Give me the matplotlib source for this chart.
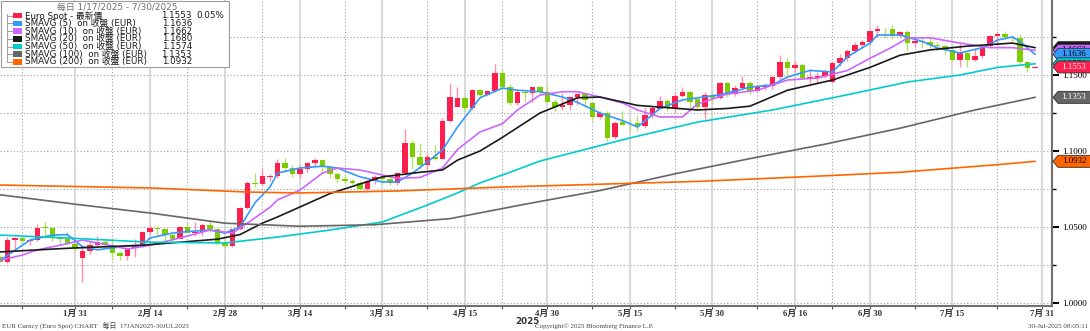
import numpy as np
import pandas as pd
import matplotlib
matplotlib.use("Agg")
import matplotlib.pyplot as plt
from matplotlib.patches import Polygon, Rectangle
from matplotlib import transforms

W, H = 1090, 331
plt.rcParams['font.family'] = ['DejaVu Sans', 'Noto Sans CJK TC']

# trading days 1/17 .. 7/31 (7/31 only used for the last axis label)
dates = pd.bdate_range("2025-01-17", "2025-07-31")

# daily OHLC, EUR spot
opens = [1.0300, 1.0272, 1.0415, 1.0430, 1.0410, 1.0414, 1.0495, 1.0493, 1.0430, 1.0422, 1.0390,
         1.0295, 1.0340, 1.0380, 1.0403, 1.0380, 1.0330, 1.0307, 1.0360, 1.0382, 1.0465,
         1.0492, 1.0484, 1.0447, 1.0423, 1.0503, 1.0459, 1.0464, 1.0512, 1.0487, 1.0398,
         1.0375, 1.0485, 1.0626, 1.0789, 1.0784, 1.0830, 1.0835, 1.0918, 1.0889, 1.0851,
         1.0880, 1.0922, 1.0943, 1.0898, 1.0851, 1.0817, 1.0801, 1.0791, 1.0753, 1.0800, 1.0828,
         1.0816, 1.0790, 1.0852, 1.1051, 1.0960, 1.0910, 1.0960, 1.0950, 1.1200,
         1.1290, 1.1350, 1.1285, 1.1400, 1.1367, 1.1395, 1.1510, 1.1420, 1.1316, 1.1390,
         1.1380, 1.1420, 1.1385, 1.1325, 1.1290, 1.1300, 1.1355, 1.1375, 1.1316, 1.1224,
         1.1250, 1.1090, 1.1190, 1.1180, 1.1185, 1.1165, 1.1237, 1.1276, 1.1330, 1.1280,
         1.1360, 1.1390, 1.1340, 1.1290, 1.1368, 1.1349, 1.1447, 1.1375, 1.1414, 1.1447,
         1.1395, 1.1420, 1.1425, 1.1487, 1.1585, 1.1546, 1.1566, 1.1480, 1.1480, 1.1496,
         1.1454, 1.1580, 1.1610, 1.1660, 1.1700, 1.1717, 1.1787, 1.1805, 1.1800, 1.1757,
         1.1780, 1.1710, 1.1725, 1.1715, 1.1700, 1.1688, 1.1663, 1.1600, 1.1645, 1.1600,
         1.1627, 1.1690, 1.1755, 1.1772, 1.1750, 1.1742, 1.1588, 1.1545]
highs = [1.0316, 1.0432, 1.0436, 1.0433, 1.0424, 1.0522, 1.0533, 1.0500, 1.0440, 1.0465, 1.0410,
         1.0376, 1.0410, 1.0442, 1.0420, 1.0430, 1.0340, 1.0370, 1.0420, 1.0473, 1.0513,
         1.0505, 1.0490, 1.0460, 1.0505, 1.0528, 1.0530, 1.0528, 1.0540, 1.0490, 1.0420,
         1.0490, 1.0630, 1.0800, 1.0853, 1.0888, 1.0850, 1.0947, 1.0955, 1.0905, 1.0906,
         1.0930, 1.0955, 1.0950, 1.0905, 1.0860, 1.0850, 1.0815, 1.0805, 1.0810, 1.0840, 1.0830,
         1.0835, 1.0865, 1.1145, 1.1070, 1.1050, 1.0990, 1.1040, 1.1220, 1.1450,
         1.1420, 1.1360, 1.1410, 1.1410, 1.1400, 1.1574, 1.1530, 1.1440, 1.1400, 1.1395,
         1.1420, 1.1425, 1.1425, 1.1340, 1.1380, 1.1365, 1.1380, 1.1380, 1.1320, 1.1265,
         1.1260, 1.1195, 1.1265, 1.1210, 1.1230, 1.1290, 1.1290, 1.1365, 1.1345, 1.1380,
         1.1420, 1.1400, 1.1345, 1.1385, 1.1385, 1.1455, 1.1455, 1.1435, 1.1495, 1.1460,
         1.1430, 1.1450, 1.1495, 1.1632, 1.1614, 1.1590, 1.1580, 1.1540, 1.1520, 1.1540,
         1.1590, 1.1640, 1.1670, 1.1715, 1.1730, 1.1790, 1.1830, 1.1810, 1.1830, 1.1790,
         1.1795, 1.1745, 1.1745, 1.1750, 1.1720, 1.1695, 1.1690, 1.1720, 1.1650, 1.1680,
         1.1700, 1.1760, 1.1780, 1.1790, 1.1760, 1.1770, 1.1590, 1.1560]
lows = [1.0267, 1.0265, 1.0340, 1.0390, 1.0380, 1.0410, 1.0440, 1.0410, 1.0380, 1.0380, 1.0340,
        1.0141, 1.0320, 1.0360, 1.0360, 1.0285, 1.0285, 1.0280, 1.0300, 1.0370, 1.0450,
        1.0450, 1.0410, 1.0400, 1.0420, 1.0460, 1.0440, 1.0440, 1.0470, 1.0380, 1.0360,
        1.0370, 1.0480, 1.0620, 1.0765, 1.0770, 1.0800, 1.0820, 1.0860, 1.0830, 1.0822,
        1.0860, 1.0900, 1.0860, 1.0820, 1.0795, 1.0780, 1.0780, 1.0745, 1.0733, 1.0780, 1.0780,
        1.0775, 1.0776, 1.0850, 1.0880, 1.0880, 1.0880, 1.0940, 1.0950, 1.1190,
        1.1290, 1.1260, 1.1270, 1.1350, 1.1360, 1.1390, 1.1400, 1.1300, 1.1300, 1.1320,
        1.1320, 1.1370, 1.1320, 1.1265, 1.1270, 1.1270, 1.1300, 1.1290, 1.1200, 1.1210,
        1.1065, 1.1080, 1.1170, 1.1130, 1.1130, 1.1150, 1.1220, 1.1275, 1.1260, 1.1250,
        1.1355, 1.1285, 1.1270, 1.1210, 1.1310, 1.1340, 1.1355, 1.1365, 1.1405, 1.1375,
        1.1385, 1.1400, 1.1410, 1.1470, 1.1490, 1.1520, 1.1475, 1.1450, 1.1446, 1.1480,
        1.1450, 1.1560, 1.1590, 1.1650, 1.1680, 1.1700, 1.1750, 1.1745, 1.1740, 1.1750,
        1.1660, 1.1685, 1.1680, 1.1680, 1.1655, 1.1640, 1.1590, 1.1555, 1.1555, 1.1590,
        1.1615, 1.1685, 1.1700, 1.1735, 1.1710, 1.1570, 1.1520, 1.1545]
closes = [1.0272, 1.0415, 1.0430, 1.0410, 1.0414, 1.0495, 1.0493, 1.0430, 1.0422, 1.0390, 1.0362,
          1.0340, 1.0380, 1.0403, 1.0380, 1.0330, 1.0307, 1.0360, 1.0382, 1.0465, 1.0492,
          1.0484, 1.0447, 1.0423, 1.0503, 1.0459, 1.0464, 1.0512, 1.0487, 1.0398, 1.0375,
          1.0485, 1.0626, 1.0789, 1.0784, 1.0833, 1.0835, 1.0918, 1.0889, 1.0851, 1.0880,
          1.0922, 1.0943, 1.0898, 1.0851, 1.0817, 1.0801, 1.0791, 1.0753, 1.0800, 1.0828, 1.0816,
          1.0790, 1.0852, 1.1051, 1.0960, 1.0910, 1.0960, 1.0950, 1.1200, 1.1357,
          1.1350, 1.1285, 1.1400, 1.1367, 1.1395, 1.1510, 1.1420, 1.1316, 1.1390, 1.1380,
          1.1420, 1.1385, 1.1325, 1.1290, 1.1300, 1.1355, 1.1375, 1.1336, 1.1224, 1.1250,
          1.1087, 1.1184, 1.1170, 1.1175, 1.1165, 1.1237, 1.1283, 1.1330, 1.1280, 1.1360,
          1.1390, 1.1320, 1.1290, 1.1368, 1.1349, 1.1447, 1.1370, 1.1414, 1.1447, 1.1395,
          1.1420, 1.1425, 1.1487, 1.1585, 1.1545, 1.1566, 1.1480, 1.1490, 1.1495, 1.1523,
          1.1580, 1.1610, 1.1660, 1.1700, 1.1717, 1.1787, 1.1805, 1.1800, 1.1757, 1.1780,
          1.1710, 1.1725, 1.1715, 1.1700, 1.1688, 1.1663, 1.1600, 1.1645, 1.1600, 1.1627,
          1.1690, 1.1755, 1.1772, 1.1750, 1.1742, 1.1588, 1.1545, 1.1553]

# moving averages, read at sample days (trading-day number from 1/17)
sma5_day = [0, 4, 7, 9, 11, 13, 17, 19, 20, 23, 25, 28, 30, 32, 34, 36, 37, 40, 43, 45, 48, 51, 53,
            55, 57, 59, 61, 64, 67, 69, 72, 75, 77, 80, 83, 85, 88, 91, 93, 96, 100, 103, 105,
            108, 111, 113, 116, 117, 120, 123, 125, 128, 131, 133, 135, 136, 138]
sma5_val = [1.0280, 1.0414, 1.0447, 1.0450, 1.0370, 1.0350, 1.0375, 1.0380, 1.0428, 1.0460, 1.0470,
            1.0480, 1.0460, 1.0500, 1.0660, 1.0763, 1.0855, 1.0888, 1.0900, 1.0888, 1.0830, 1.0796,
            1.0796, 1.0855, 1.0928, 1.1007, 1.1158, 1.1350, 1.1414, 1.1400, 1.1390, 1.1355, 1.1320,
            1.1250, 1.1200, 1.1158, 1.1280, 1.1336, 1.1350, 1.1370, 1.1420, 1.1435, 1.1487,
            1.1530, 1.1520, 1.1620, 1.1710, 1.1763, 1.1763, 1.1720, 1.1678, 1.1645, 1.1680,
            1.1730, 1.1750, 1.1720, 1.1636]
sma10_day = [0, 3, 5, 8, 11, 13, 17, 20, 24, 28, 31, 33, 36, 37, 40, 43, 45, 48, 51, 53, 56, 59,
             61, 64, 67, 69, 72, 75, 77, 80, 83, 85, 88, 91, 93, 97, 101, 105, 109, 113, 116,
             119, 121, 124, 128, 132, 135, 138]
sma10_val = [1.0280, 1.0316, 1.0350, 1.0380, 1.0414, 1.0395, 1.0355, 1.0380, 1.0428, 1.0480,
             1.0460, 1.0526, 1.0630, 1.0678, 1.0743, 1.0855, 1.0888, 1.0875, 1.0842, 1.0820,
             1.0826, 1.0888, 1.1010, 1.1125, 1.1180, 1.1270, 1.1368, 1.1390, 1.1390, 1.1355,
             1.1316, 1.1270, 1.1224, 1.1224, 1.1310, 1.1375, 1.1400, 1.1467, 1.1480, 1.1530,
             1.1610, 1.1685, 1.1743, 1.1745, 1.1710, 1.1680, 1.1680, 1.1662]
sma20_day = [0, 9, 19, 29, 32, 35, 37, 44, 51, 56, 59, 61, 64, 67, 72, 77, 80, 85, 93, 97, 100,
             105, 111, 116, 120, 124, 129, 135, 138]
sma20_val = [1.0336, 1.0360, 1.0380, 1.0420, 1.0450, 1.0526, 1.0566, 1.0720, 1.0830, 1.0860,
             1.0875, 1.0940, 1.1000, 1.1090, 1.1250, 1.1350, 1.1355, 1.1300, 1.1270, 1.1280,
             1.1295, 1.1400, 1.1467, 1.1550, 1.1630, 1.1665, 1.1690, 1.1710, 1.1680]
sma50_day = [0, 10, 20, 30, 37, 44, 51, 57, 61, 64, 68, 72, 84, 93, 103, 113, 121, 128, 133, 138]
sma50_val = [1.0447, 1.0425, 1.0400, 1.0395, 1.0434, 1.0480, 1.0533, 1.0645, 1.0724, 1.0790,
             1.0860, 1.0934, 1.1086, 1.1190, 1.1270, 1.1370, 1.1454, 1.1500, 1.1550, 1.1574]
sma100_day = [0, 10, 20, 30, 40, 50, 60, 70, 80, 90, 100, 110, 120, 130, 138]
sma100_val = [1.0712, 1.0650, 1.0592, 1.0525, 1.0505, 1.0515, 1.0555, 1.0650, 1.0740, 1.0850,
              1.0950, 1.1045, 1.1150, 1.1270, 1.1353]
sma200_day = [0, 20, 33, 40, 53, 67, 72, 93, 107, 120, 133, 138]
sma200_val = [1.0776, 1.0757, 1.0730, 1.0724, 1.0737, 1.0763, 1.0770, 1.0800, 1.0830, 1.0860,
              1.0910, 1.0932]

label_dates = ["2025-01-31", "2025-02-14", "2025-02-28", "2025-03-14", "2025-03-31", "2025-04-15",
               "2025-04-30", "2025-05-15", "2025-05-30", "2025-06-16", "2025-06-30", "2025-07-15",
               "2025-07-31"]
label_texts = ["1月 31", "2月 14", "2月 28", "3月 14", "3月 31", "4月 15", "4月 30", "5月 15",
               "5月 30", "6月 16", "6月 30", "7月 15", "7月 31"]
minor_dates = ["2025-01-22", "2025-02-07", "2025-02-21", "2025-03-07", "2025-03-24", "2025-04-08",
               "2025-04-22", "2025-05-08", "2025-05-23", "2025-06-09", "2025-06-23", "2025-07-08",
               "2025-07-23"]
y_labels = [1.00, 1.05, 1.10, 1.15]

C_UP, C_DN = "#ff1f4f", "#7ccc00"
W_UP, W_DN = "#ff8fa5", "#b5e06a"
series = [("SMAVG (5)", sma5_day, sma5_val, "#3399ff", "black"),
          ("SMAVG (10)", sma10_day, sma10_val, "#cc66ff", "black"),
          ("SMAVG (20)", sma20_day, sma20_val, "#1a1a1a", "white"),
          ("SMAVG (50)", sma50_day, sma50_val, "#00cccc", "black"),
          ("SMAVG (100)", sma100_day, sma100_val, "#666666", "white"),
          ("SMAVG (200)", sma200_day, sma200_val, "#ff6600", "black")]

pos = {d: i for i, d in enumerate(dates)}
n = len(closes)
xs = np.arange(n)
o = np.array(opens); h = np.array(highs); l = np.array(lows); c = np.array(closes)
up = c >= o

fig = plt.figure(figsize=(W / 100, H / 100), dpi=100)
ax = fig.add_axes([0, 25 / H, 1052 / W, 306 / H])
ax.set_xlim(0, 1052 / 7.5)
ax.set_ylim(1.0 - 3 / 1520, 1.0 + 303 / 1520)

# grid
for v in np.arange(1.0, 1.19, 0.025):
    ax.axhline(v, color="#a0a0a0", lw=0.8, ls=(0, (1, 2)), zorder=0)
for d in label_dates:
    ax.axvline(pos[pd.Timestamp(d)], color="#cfcfcf", lw=1.1, zorder=0)
for d in minor_dates:
    ax.axvline(pos[pd.Timestamp(d)], color="#a0a0a0", lw=0.8, ls=(0, (1, 2)), zorder=0)

# candles
ax.vlines(xs[up], l[up], h[up], color=W_UP, lw=1.0, zorder=2)
ax.vlines(xs[~up], l[~up], h[~up], color=W_DN, lw=1.0, zorder=2)
body = np.maximum(np.abs(c - o), 0.0004)
ax.bar(xs[up], body[up], bottom=np.minimum(o, c)[up], width=0.72, color=C_UP, lw=0, zorder=3)
ax.bar(xs[~up], body[~up], bottom=np.minimum(o, c)[~up], width=0.72, color=C_DN, lw=0, zorder=3)

# moving averages
for name, dx, dv, col, _ in series:
    ax.plot(dx, dv, color=col, lw=1.2, zorder=4, solid_joinstyle="round")

# axes styling
for s in ("left", "top"):
    ax.spines[s].set_visible(False)
for s in ("right", "bottom"):
    ax.spines[s].set_color("#707070")
    ax.spines[s].set_linewidth(1.5)
ax.yaxis.tick_right()
ax.set_yticks(y_labels)
ax.set_yticklabels([f"{v:.4f}" for v in y_labels])
ax.set_yticks(np.arange(1.025, 1.19, 0.05), minor=True)
ax.tick_params(axis="y", which="major", length=5, width=1.5, colors="black", pad=2,
               labelsize=6.5, labelfontfamily="Liberation Serif")
ax.tick_params(axis="y", which="minor", length=3, width=1, colors="black")
ax.set_xticks([pos[pd.Timestamp(d)] for d in label_dates])
ax.set_xticklabels(label_texts, fontweight="bold", color="#333333")
ax.set_xticks([pos[pd.Timestamp(d)] for d in minor_dates], minor=True)
ax.tick_params(axis="x", which="both", length=2, width=0.8, colors="#555555", pad=0.5, labelsize=6.3)
for t in ax.get_xticklabels():
    t.set_family(["Liberation Serif", "Noto Sans CJK TC"])
    t.set_color("#333333")

# value tags at the right (later tags drawn over earlier ones, as in the original)
tr = transforms.blended_transform_factory(ax.transAxes, ax.transData)
hh = 6 / 1520
tags = [(series[2][2][-1], series[2][3], series[2][4]),
        (series[1][2][-1], series[1][3], series[1][4]),
        (series[0][2][-1], series[0][3], series[0][4]),
        (series[3][2][-1], series[3][3], series[3][4]),
        (closes[-1], C_UP, "white"),
        (series[4][2][-1], series[4][3], series[4][4]),
        (series[5][2][-1], series[5][3], series[5][4])]
x0, x1, x2 = 1053 / 1052, 1058 / 1052, 1092 / 1052
for k, (v, col, tc) in enumerate(tags):
    poly = Polygon([(x0, v), (x1, v + hh), (x2, v + hh), (x2, v - hh), (x1, v - hh)],
                   closed=True, transform=tr, facecolor=col, edgecolor="#303030", lw=0.6,
                   clip_on=False, zorder=10 + 2 * k)
    ax.add_patch(poly)
    ax.text(1074 / 1052, v, f"{v:.4f}", transform=tr, ha="center", va="center", fontsize=6.5,
            color=tc, family="Liberation Serif", zorder=11 + 2 * k, clip_on=False)

# legend box
def fx(px): return px / W
def fy(py): return 1 - py / H

fig.add_artist(Rectangle((fx(1), fy(67)), fx(228) - fx(0), 66 / H, transform=fig.transFigure,
                         facecolor="white", edgecolor="#9a9a9a", lw=0.8, zorder=20))
fig.text(fx(117), fy(7), f"每日 {dates[0].month}/{dates[0].day}/2025 - {dates[n-1].month}/{dates[n-1].day}/2025",
         ha="center", va="center", fontsize=6.4, color="#707070", zorder=21)
rows = [("Euro Spot - 最新價", closes[-1], C_UP)] + \
       [(f"{nm}  on 收盤 (EUR)", dv[-1], col) for nm, _, dv, col, _ in series]
fig.add_artist(plt.Line2D([fx(7), fx(7)], [fy(14), fy(62)], transform=fig.transFigure,
                          color="#a0a0a0", lw=0.7, zorder=21))
lt = dict(fontsize=6.3, color="#1a1a1a", va="center", zorder=21)
for i, (txt, val, col) in enumerate(rows):
    yy = 15.7 + i * 7.7
    fig.add_artist(plt.Line2D([fx(7), fx(13)], [fy(yy), fy(yy)], transform=fig.transFigure,
                              color="#a0a0a0", lw=0.7, zorder=21))
    fig.add_artist(Rectangle((fx(13), fy(yy + 2.7)), 9 / W, 5.4 / H, transform=fig.transFigure,
                             facecolor=col, edgecolor="none", zorder=21))
    fig.text(fx(25), fy(yy), txt, ha="left", **lt)
    fig.text(fx(192), fy(yy), f"{val:.4f}", ha="right", **lt)
fig.text(fx(224), fy(15.7), "0.05%", ha="right", **lt)

# footer
fig.text(fx(527), fy(321), "2025", ha="center", va="center", fontsize=6.3, fontweight="bold", color="#333333")
ft = dict(fontsize=5, color="#444444", va="center", family=["Liberation Serif", "Noto Sans CJK TC"])
fig.text(fx(2), fy(326.5), "EUR Curncy (Euro Spot) CHART   每日  17JAN2025-30JUL2025", ha="left", **ft)
fig.text(fx(535), fy(326.5), "Copyright© 2025 Bloomberg Finance L.P.", ha="left", **ft)
fig.text(fx(1088), fy(326.5), "30-Jul-2025 08:05:11", ha="right", **ft)

fig.savefig("out.png", dpi=100)
